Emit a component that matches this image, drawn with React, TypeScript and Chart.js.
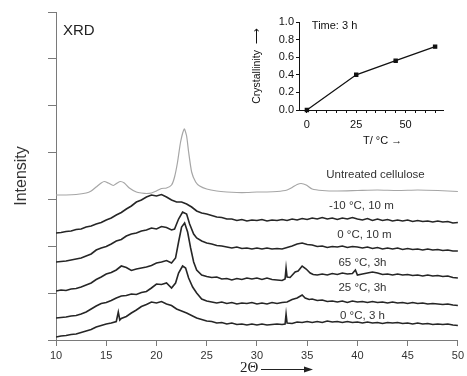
import React, { useEffect, useRef } from "react";
import { Chart, registerables } from "chart.js";

Chart.register(...registerables);

// ---------- Main XRD chart data ----------
const ANGLE_TICKS = [10, 15, 20, 25, 30, 35, 40, 45, 50];
const INTENSITY_TICK_COUNT = 7;
const INTENSITY_MAX = 328;

const UNTREATED: [number, number][] = [
  [10, 145], [11, 145], [12, 145.5], [13, 147], [13.5, 149], [14, 153], [14.5, 157], [14.8, 158.5],
  [15.2, 157], [15.7, 154.5], [16.1, 157], [16.4, 158.5], [16.8, 157], [17.3, 152], [18, 148],
  [18.5, 147], [19, 146.5], [19.5, 147], [20, 149], [20.5, 151.5], [21, 152], [21.5, 155],
  [21.8, 163], [22.1, 178], [22.4, 198], [22.77, 211], [23.0, 204], [23.2, 188], [23.5, 168],
  [23.9, 158], [24.3, 154], [25, 151], [26, 149], [27, 148], [28, 147.5], [29, 147.5], [30, 148],
  [31, 148], [32, 148.5], [33, 150], [33.5, 152.5], [34, 155.5], [34.4, 156.5], [34.9, 155],
  [35.5, 151], [36.5, 149.5], [38, 149], [40, 149.5], [42, 150], [44, 149.5], [46, 150],
  [48, 149.5], [50, 148.5],
];

const M10C_10M: [number, number][] = [
  [10, 107], [10.5, 107.5], [11, 108.5], [11.5, 109], [12, 110.5], [12.5, 111], [13, 113], [13.5, 114],
  [14, 116], [14.5, 117.5], [15, 120], [15.5, 122], [16, 125], [16.5, 127.5], [17, 131], [17.5, 134],
  [18, 138], [18.5, 140], [19, 143], [19.5, 145], [20, 144], [20.5, 145.5], [21, 143], [21.5, 140],
  [22, 138], [22.5, 138], [23, 136], [23.5, 133], [24, 129], [24.5, 127], [25, 126], [25.5, 124.5],
  [26, 123], [26.5, 122.5], [27, 121], [27.5, 121], [28, 119.5], [28.5, 120.5], [29, 119], [29.5, 120],
  [30, 119.5], [30.5, 120.5], [31, 119], [31.5, 120], [32, 119.5], [32.5, 120.5], [33, 119.5],
  [33.5, 121], [34, 120], [34.5, 121.5], [35, 120.5], [35.5, 122], [36, 121], [36.5, 122.5], [37, 121],
  [37.5, 122], [38, 120.5], [38.5, 122], [39, 121], [39.5, 122.5], [40, 121], [40.5, 120], [41, 121.5],
  [41.5, 119.5], [42, 121], [42.5, 119.5], [43, 120.5], [43.5, 119], [44, 120], [44.5, 119], [45, 120],
  [45.5, 118.5], [46, 119.5], [46.5, 118.5], [47, 119], [47.5, 118], [48, 119], [48.5, 118], [49, 118.5],
  [49.5, 117], [50, 117.5],
];

const C0_10M: [number, number][] = [
  [10, 78], [10.5, 78.5], [11, 79], [11.5, 80], [12, 81], [12.5, 82], [13, 84], [13.5, 86], [14, 90],
  [14.5, 92], [15, 93.5], [15.5, 96], [16, 99], [16.5, 100.5], [17, 104], [17.5, 106], [18, 107],
  [18.5, 109], [19, 110], [19.5, 112], [20, 111], [20.5, 113.5], [21, 112.5], [21.5, 110], [21.8, 111],
  [22.2, 121], [22.6, 128], [23, 126], [23.3, 116], [23.7, 106], [24, 102], [24.5, 99], [25, 97],
  [25.5, 96], [26, 94.5], [26.5, 94], [27, 93], [27.5, 92], [28, 93], [28.5, 91.5], [29, 92], [29.5, 91],
  [30, 92], [30.5, 91], [31, 92], [31.5, 91], [32, 91.5], [32.5, 91], [33, 92.5], [33.5, 94], [34, 96],
  [34.5, 97], [35, 95.5], [35.5, 95], [36, 93.5], [36.5, 94], [37, 92.5], [37.5, 93.5], [38, 93],
  [38.5, 94], [39, 92.5], [39.5, 93.5], [40, 93], [40.5, 92], [41, 93], [41.5, 91.5], [42, 92.5],
  [42.5, 91], [43, 92], [43.5, 91], [44, 92], [44.5, 90.5], [45, 91.5], [45.5, 90.5], [46, 91],
  [46.5, 90], [47, 91], [47.5, 90], [48, 90.5], [48.5, 89.5], [49, 90], [49.5, 89], [50, 89],
];

const C65_3H: [number, number][] = [
  [10, 49], [10.5, 50], [11, 49.5], [11.5, 51], [12, 51.5], [12.5, 53], [13, 55], [13.5, 57], [14, 60.5],
  [14.5, 63], [15, 66], [15.5, 67.5], [16, 70], [16.5, 74], [17, 72.5], [17.5, 69.5], [18, 71], [18.5, 72],
  [19, 73], [19.5, 74.5], [20, 77], [20.5, 78], [21, 79.5], [21.5, 77], [21.9, 82], [22.2, 98],
  [22.5, 113], [22.8, 117], [23.1, 108], [23.4, 92], [23.7, 78], [24, 70], [24.5, 65], [25, 63.5],
  [25.5, 62.5], [26, 63], [26.5, 61], [27, 61.5], [27.5, 60], [28, 61.5], [28.5, 60.5], [29, 62],
  [29.5, 61], [30, 62], [30.5, 60.5], [31, 62], [31.5, 60.5], [32, 60], [32.5, 59.5], [32.8, 61],
  [32.9, 72], [33.0, 63], [33.3, 62.5], [33.8, 68], [34.1, 69], [34.5, 74], [34.9, 71], [35.3, 67],
  [35.6, 65.5], [36, 65], [36.5, 66], [37, 65], [37.5, 66.5], [38, 65.5], [38.5, 67], [39, 66],
  [39.5, 66.5], [39.8, 70], [40, 65], [40.5, 66], [41, 67], [41.5, 68], [42, 67], [42.5, 65.5], [43, 66],
  [43.5, 65], [44, 66], [44.5, 65], [45, 65.5], [45.5, 64.5], [46, 65], [46.5, 64], [47, 65], [47.5, 64],
  [48, 64.5], [48.5, 63.5], [49, 64], [49.5, 62.5], [50, 62],
];

const C25_3H: [number, number][] = [
  [10, 22], [10.5, 22.5], [11, 23], [11.5, 24], [12, 24.5], [12.5, 26], [13, 28], [13.5, 31], [14, 34],
  [14.5, 36.5], [15, 37.5], [15.5, 39.5], [16, 42], [16.5, 44], [17, 44.5], [17.5, 46], [18, 45.5],
  [18.5, 47.5], [19, 48.5], [19.5, 52], [20, 56], [20.5, 55.5], [21, 57], [21.5, 52], [21.9, 57],
  [22.2, 67], [22.6, 74], [22.9, 72], [23.2, 62], [23.6, 53], [24, 47], [24.5, 41], [25, 39], [25.5, 38],
  [26, 37], [26.5, 38], [27, 36.5], [27.5, 37.5], [28, 36], [28.5, 37], [29, 36.5], [29.5, 37.5], [30, 36],
  [30.5, 37], [31, 36], [31.5, 37.5], [32, 36.5], [32.5, 37.5], [33, 38], [33.5, 40.5], [34, 42],
  [34.5, 45], [34.8, 42], [35.2, 40.5], [35.5, 41], [36, 39.5], [36.5, 40], [37, 38.5], [37.5, 39],
  [38, 38], [38.5, 39], [39, 37.5], [39.5, 39], [40, 38], [40.5, 38.5], [41, 37.5], [41.5, 38.5],
  [42, 37.5], [42.5, 38], [43, 37], [43.5, 38], [44, 37], [44.5, 37.5], [45, 36.5], [45.5, 37.5],
  [46, 36.5], [46.5, 37], [47, 36], [47.5, 36.5], [48, 36], [48.5, 35.5], [49, 36], [49.5, 35], [50, 34.5],
];

const C0_3H: [number, number][] = [
  [10, 3], [10.5, 4], [11, 4.5], [11.5, 5.5], [12, 6], [12.5, 7.5], [13, 9], [13.5, 10.5], [14, 13],
  [14.5, 14.5], [15, 16], [15.5, 17], [16, 18.5], [16.2, 28], [16.35, 20], [16.5, 21.5], [17, 23.5],
  [17.5, 27], [18, 30], [18.5, 33.5], [19, 35.5], [19.5, 38], [20, 37], [20.5, 38.5], [21, 36],
  [21.5, 34.5], [22, 31], [22.5, 29], [23, 27], [23.5, 24.5], [24, 22], [24.5, 20.5], [25, 19],
  [25.5, 18.5], [26, 17], [26.5, 17.5], [27, 16], [27.5, 17], [28, 15.5], [28.5, 16], [29, 15],
  [29.5, 16], [30, 15], [30.5, 16], [31, 15], [31.5, 15.5], [32, 16], [32.5, 15.5], [32.8, 16],
  [32.9, 26], [33.0, 17], [33.5, 16.5], [34, 18], [34.5, 17.5], [35, 18.5], [35.5, 17.5], [36, 18.5],
  [36.5, 17.5], [37, 19], [37.5, 18], [38, 18.5], [38.5, 17.5], [39, 18.5], [39.5, 17.5], [40, 18],
  [40.5, 17], [41, 18], [41.5, 17], [42, 17.5], [42.5, 16.5], [43, 17.5], [43.5, 17], [44, 17.5],
  [44.5, 16.5], [45, 17], [45.5, 16], [46, 17], [46.5, 16], [47, 16.5], [47.5, 15.5], [48, 16],
  [48.5, 15.5], [49, 16], [49.5, 15], [50, 14.5],
];

const CURVE_LABELS = ["Untreated cellulose", "-10 °C, 10 m", "0 °C, 10 m", "65 °C, 3h", "25 °C, 3h", "0 °C, 3 h"];
const CURVE_LABEL_ANGLE = [41.8, 40.4, 40.7, 40.5, 40.5, 40.5];
const CURVE_LABEL_INTENSITY = [165, 134, 105, 77, 52, 24];

// ---------- Inset data ----------
const INSET_T = [0, 25, 45, 65];
const INSET_CRYSTALLINITY = [0.0, 0.4, 0.56, 0.72];
const INSET_T_TICKS = [0, 5, 10, 15, 20, 25, 30, 35, 40, 45, 50, 55, 60, 65];
const INSET_T_LABELED = [0, 25, 50];

const SANS = "Arial, 'Liberation Sans', sans-serif";
const SERIF = "'Liberation Serif', 'Times New Roman', serif";

const toPts = (arr: [number, number][]) => arr.map(([x, y]) => ({ x, y }));

export default function App() {
  const mainRef = useRef<HTMLCanvasElement | null>(null);
  const insetRef = useRef<HTMLCanvasElement | null>(null);

  useEffect(() => {
    document.body.style.margin = "0";
    const mainCanvas = mainRef.current!;
    const insetCanvas = insetRef.current!;

    const mainAnnotations = {
      id: "mainAnnotations",
      afterDraw(chart: any) {
        const { ctx, chartArea, scales } = chart;
        ctx.save();
        ctx.fillStyle = "#333";
        ctx.textBaseline = "middle";
        ctx.textAlign = "center";
        ctx.font = `11.5px ${SANS}`;
        CURVE_LABELS.forEach((t, i) => {
          ctx.fillText(t, scales.x.getPixelForValue(CURVE_LABEL_ANGLE[i]), scales.y.getPixelForValue(CURVE_LABEL_INTENSITY[i]));
        });
        ctx.textAlign = "left";
        ctx.font = `15px ${SANS}`;
        ctx.fillStyle = "#222";
        ctx.fillText("XRD", chartArea.left + 7, chartArea.top + 19);
        // x-axis title: 2Θ with arrow
        ctx.font = `15px ${SERIF}`;
        ctx.fillStyle = "#222";
        ctx.fillText("2Θ", 240, 368);
        ctx.strokeStyle = "#222";
        ctx.lineWidth = 1.2;
        ctx.beginPath();
        ctx.moveTo(261, 369.5);
        ctx.lineTo(306, 369.5);
        ctx.stroke();
        ctx.beginPath();
        ctx.moveTo(313, 369.5);
        ctx.lineTo(304, 366.5);
        ctx.lineTo(304, 372.5);
        ctx.closePath();
        ctx.fill();
        ctx.restore();
      },
    };

    const noisy = (data: [number, number][]) => ({
      data: toPts(data),
      borderColor: "#262626",
      borderWidth: 1.6,
      pointRadius: 0,
      tension: 0,
    });

    const main = new Chart(mainCanvas, {
      type: "line",
      data: {
        datasets: [
          { data: toPts(UNTREATED), borderColor: "#a6a6a6", borderWidth: 1.2, pointRadius: 0, tension: 0.2 },
          noisy(M10C_10M),
          noisy(C0_10M),
          noisy(C65_3H),
          noisy(C25_3H),
          noisy(C0_3H),
        ] as any,
      },
      options: {
        animation: false,
        responsive: false,
        parsing: false as any,
        layout: { padding: { top: 12, right: 7, left: 0, bottom: 0 } },
        plugins: { legend: { display: false }, tooltip: { enabled: false } },
        scales: {
          x: {
            type: "linear",
            min: 10,
            max: 50,
            afterBuildTicks: (s: any) => {
              s.ticks = ANGLE_TICKS.map((v) => ({ value: v }));
            },
            afterFit: (s: any) => {
              s.height = 36;
            },
            grid: { drawOnChartArea: false, drawTicks: true, tickLength: 6, color: "#7a7a7a", tickColor: "#7a7a7a" },
            border: { display: true, color: "#7a7a7a", width: 1 },
            ticks: { font: { family: SANS, size: 11 }, color: "#333", padding: 3, maxRotation: 0, autoSkip: false },
          },
          y: {
            type: "linear",
            min: 0,
            max: INTENSITY_MAX,
            afterBuildTicks: (s: any) => {
              const t = [];
              for (let i = 0; i <= INTENSITY_TICK_COUNT; i++) t.push({ value: (i * INTENSITY_MAX) / INTENSITY_TICK_COUNT });
              s.ticks = t;
            },
            afterFit: (s: any) => {
              s.width = 56;
            },
            grid: { drawOnChartArea: false, drawTicks: true, tickLength: 8, color: "#7a7a7a", tickColor: "#7a7a7a" },
            border: { display: true, color: "#7a7a7a", width: 1 },
            ticks: { display: false },
            title: {
              display: true,
              text: "Intensity",
              color: "#333",
              font: { family: SANS, size: 16 },
              padding: { top: 12, bottom: 0 },
            },
          },
        },
      },
      plugins: [mainAnnotations],
    } as any);

    const insetAnnotations = {
      id: "insetAnnotations",
      afterDraw(chart: any) {
        const { ctx, scales } = chart;
        ctx.save();
        ctx.fillStyle = "#111";
        ctx.textBaseline = "middle";
        ctx.textAlign = "left";
        ctx.font = `11px ${SANS}`;
        ctx.fillText("Time: 3 h", scales.x.getPixelForValue(2.5), scales.y.getPixelForValue(0.955));
        ctx.fillText("T/ °C →", 123, 141);
        ctx.restore();
      },
    };

    const inset = new Chart(insetCanvas, {
      type: "line",
      data: {
        datasets: [
          {
            data: INSET_T.map((t, i) => ({ x: t, y: INSET_CRYSTALLINITY[i] })),
            borderColor: "#111",
            backgroundColor: "#111",
            borderWidth: 1.3,
            pointStyle: "rect",
            pointRadius: 2.2,
            tension: 0,
            clip: false,
          },
        ] as any,
      },
      options: {
        animation: false,
        responsive: false,
        parsing: false as any,
        layout: { padding: { top: 22, right: 12, left: 0, bottom: 0 } },
        plugins: { legend: { display: false }, tooltip: { enabled: false } },
        scales: {
          x: {
            type: "linear",
            min: -4,
            max: 69,
            afterBuildTicks: (s: any) => {
              s.ticks = INSET_T_TICKS.map((v) => ({ value: v }));
            },
            afterFit: (s: any) => {
              s.height = 40;
            },
            grid: { drawOnChartArea: false, drawTicks: true, tickLength: 3, color: "#111", tickColor: "#111" },
            border: { display: true, color: "#111", width: 1 },
            ticks: {
              font: { family: SANS, size: 11 },
              color: "#111",
              padding: 5,
              maxRotation: 0,
              autoSkip: false,
              callback: (v: any) => (INSET_T_LABELED.includes(Number(v)) ? String(v) : ""),
            },
          },
          y: {
            type: "linear",
            min: 0,
            max: 1,
            afterFit: (s: any) => {
              s.width = 59;
            },
            grid: { drawOnChartArea: false, drawTicks: true, tickLength: 3, color: "#111", tickColor: "#111" },
            border: { display: true, color: "#111", width: 1 },
            ticks: {
              stepSize: 0.2,
              font: { family: SANS, size: 11 },
              color: "#111",
              padding: 2,
              callback: (v: any) => Number(v).toFixed(1),
            },
            title: {
              display: true,
              text: "Crystallinity  ⟶",
              color: "#111",
              font: { family: SANS, size: 10.5 },
              padding: { top: 11, bottom: 0 },
            },
          },
        },
      },
      plugins: [insetAnnotations],
    } as any);

    return () => {
      main.destroy();
      inset.destroy();
    };
  }, []);

  return (
    <div style={{ position: "relative", width: 467, height: 376, background: "#fff" }}>
      <canvas ref={mainRef} width={467} height={376} style={{ position: "absolute", left: 0, top: 0, width: 467, height: 376 }} />
      <canvas ref={insetRef} width={215} height={150} style={{ position: "absolute", left: 240, top: 0, width: 215, height: 150 }} />
    </div>
  );
}
